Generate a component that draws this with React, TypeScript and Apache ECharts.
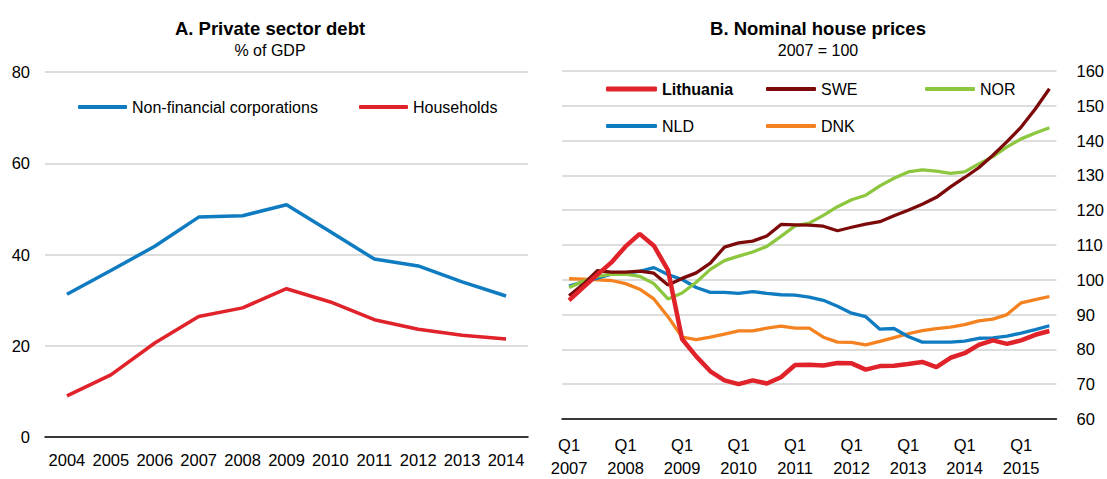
import React, { useEffect, useRef } from "react";
import * as echarts from "echarts";

const FONT = "'Liberation Sans Narrow', 'Arial Narrow', 'Liberation Sans', Arial, sans-serif";

// Panel A: private sector debt, % of GDP
const years = ["2004", "2005", "2006", "2007", "2008", "2009", "2010", "2011", "2012", "2013", "2014"];
const nonFinancialCorporations = [31.3, 36.5, 41.8, 48.2, 48.5, 50.9, 45.0, 39.0, 37.5, 34.0, 30.9];
const households = [9.0, 13.6, 20.6, 26.4, 28.3, 32.5, 29.6, 25.7, 23.6, 22.3, 21.5];

// Panel B: nominal house prices, 2007 = 100 (2007Q1 .. 2015Q3)
const quarterYears = ["2007", "2008", "2009", "2010", "2011", "2012", "2013", "2014", "2015"];
const quarterNames = ["Q1", "Q2", "Q3", "Q4"];
const quarters: string[] = [];
quarterYears.forEach((y) => quarterNames.forEach((q) => quarters.push(y + "-" + q)));
quarters.splice(35);

const lithuania = [94.1, 97.8, 101.5, 105.0, 109.6, 113.2, 109.8, 102.8, 83.0, 78.0, 73.7, 71.1, 70.0, 71.1, 70.2, 72.0, 75.5, 75.6, 75.4, 76.1, 76.0, 74.2, 75.2, 75.3, 75.8, 76.4, 74.9, 77.6, 78.9, 81.3, 82.6, 81.6, 82.6, 84.2, 85.3];
const swe = [95.4, 98.7, 102.6, 102.2, 102.2, 102.5, 101.9, 98.5, 100.4, 102.0, 104.8, 109.4, 110.6, 111.1, 112.6, 115.9, 115.8, 115.7, 115.4, 114.1, 115.1, 116.0, 116.7, 118.4, 120.0, 121.7, 123.7, 126.7, 129.4, 132.2, 135.8, 139.7, 143.9, 149.1, 154.9];
const nor = [97.8, 99.6, 101.0, 101.6, 101.6, 101.0, 98.9, 94.5, 96.2, 99.3, 103.0, 105.5, 106.8, 108.0, 109.6, 112.5, 115.5, 116.3, 118.5, 121.0, 123.0, 124.3, 127.0, 129.2, 131.0, 131.6, 131.2, 130.6, 131.0, 133.3, 135.4, 138.2, 140.5, 142.2, 143.7];
const nld = [98.2, 99.4, 100.5, 101.6, 101.9, 102.4, 103.5, 101.5, 100.1, 97.8, 96.4, 96.4, 96.1, 96.6, 96.1, 95.7, 95.6, 95.0, 94.1, 92.4, 90.4, 89.4, 85.8, 86.0, 83.7, 82.1, 82.1, 82.1, 82.4, 83.2, 83.3, 83.8, 84.7, 85.7, 86.8];
const dnk = [100.3, 100.2, 100.0, 99.8, 98.9, 97.3, 94.5, 89.4, 83.5, 82.8, 83.5, 84.4, 85.3, 85.3, 86.1, 86.7, 86.1, 86.1, 83.5, 82.1, 82.0, 81.3, 82.3, 83.4, 84.5, 85.4, 86.0, 86.4, 87.1, 88.2, 88.7, 90.0, 93.4, 94.3, 95.2];

const BLUE = "#0f7bc0";
const RED = "#e0232b";
const MAROON = "#7d0a0a";
const GREEN = "#8dc63f";
const ORANGE = "#f58220";
const GRID = "#d2d2d2";

function legendAt(name: string, left: number, centerY: number, w: number, h: number, bold = false) {
  return {
    data: [name],
    left,
    top: centerY - 10,
    padding: 0,
    icon: "roundRect",
    itemWidth: w,
    itemHeight: h,
    selectedMode: false,
    textStyle: { fontFamily: FONT, fontSize: 16, lineHeight: 20, color: "#000", fontWeight: bold ? "bold" : "normal" },
  };
}

export default function App() {
  const ref = useRef<HTMLDivElement>(null);
  useEffect(() => {
    document.body.style.margin = "0";
    if (!ref.current) return;
    const chart = echarts.init(ref.current, null, { renderer: "svg" });
    const axisLabelBase = { color: "#000", fontSize: 16.5, fontFamily: FONT };
    chart.setOption({
      animation: false,
      textStyle: { fontFamily: FONT },
      grid: [
        { left: 45, top: 72, width: 483, height: 365 },
        { left: 562, top: 71, width: 495, height: 362 },
      ],
      graphic: [
        { type: "text", x: 270, y: 28, style: { text: "A. Private sector debt", fontFamily: FONT, fontSize: 18.5, fontWeight: "bold", fill: "#000", align: "center", verticalAlign: "middle" } },
        { type: "text", x: 270, y: 50, style: { text: "% of GDP", fontFamily: FONT, fontSize: 16, fill: "#000", align: "center", verticalAlign: "middle" } },
        { type: "text", x: 818, y: 28, style: { text: "B. Nominal house prices", fontFamily: FONT, fontSize: 18.5, fontWeight: "bold", fill: "#000", align: "center", verticalAlign: "middle" } },
        { type: "text", x: 818, y: 50, style: { text: "2007 = 100", fontFamily: FONT, fontSize: 16, fill: "#000", align: "center", verticalAlign: "middle" } },
      ],
      legend: [
        legendAt("Non-financial corporations", 78, 107, 49, 4),
        legendAt("Households", 359, 107, 49, 4),
        legendAt("Lithuania", 606, 89, 51, 5, true),
        legendAt("SWE", 766, 89, 50, 4),
        legendAt("NOR", 925, 89, 50, 4),
        legendAt("NLD", 606, 126, 51, 4),
        legendAt("DNK", 766, 126, 50, 4),
      ],
      xAxis: [
        {
          gridIndex: 0,
          type: "category",
          data: years,
          boundaryGap: true,
          axisLine: { lineStyle: { color: "#000", width: 1.5 } },
          axisTick: { inside: true, length: 6, interval: 0, lineStyle: { color: "#000", width: 1.5 } },
          axisLabel: { ...axisLabelBase, interval: 0, margin: 14 },
        },
        {
          gridIndex: 1,
          type: "category",
          data: quarters,
          boundaryGap: true,
          axisLine: { lineStyle: { color: "#000", width: 1.5 } },
          axisTick: { inside: true, length: 5, interval: 0, lineStyle: { color: "#000", width: 1.5 } },
          axisLabel: {
            ...axisLabelBase,
            lineHeight: 23,
            margin: 14,
            interval: (i: number) => i % 4 === 0,
            formatter: (v: string) => v.split("-")[1] + "\n" + v.split("-")[0],
          },
        },
      ],
      yAxis: [
        {
          gridIndex: 0,
          type: "value",
          min: 0,
          max: 80,
          interval: 20,
          axisLine: { show: false },
          axisTick: { show: false },
          splitLine: { lineStyle: { color: GRID, width: 1.5 } },
          axisLabel: { ...axisLabelBase, margin: 15 },
        },
        {
          gridIndex: 1,
          type: "value",
          position: "right",
          min: 60,
          max: 160,
          interval: 10,
          axisLine: { show: false },
          axisTick: { show: false },
          splitLine: { lineStyle: { color: GRID, width: 1.5 } },
          axisLabel: { ...axisLabelBase, margin: 20 },
        },
      ],
      series: [
        { name: "Non-financial corporations", type: "line", xAxisIndex: 0, yAxisIndex: 0, data: nonFinancialCorporations, symbol: "none", color: BLUE, lineStyle: { width: 3.5, color: BLUE } },
        { name: "Households", type: "line", xAxisIndex: 0, yAxisIndex: 0, data: households, symbol: "none", color: RED, lineStyle: { width: 3.5, color: RED } },
        { name: "DNK", type: "line", xAxisIndex: 1, yAxisIndex: 1, data: dnk, symbol: "none", color: ORANGE, lineStyle: { width: 3.3, color: ORANGE } },
        { name: "NLD", type: "line", xAxisIndex: 1, yAxisIndex: 1, data: nld, symbol: "none", color: BLUE, lineStyle: { width: 3.3, color: BLUE } },
        { name: "NOR", type: "line", xAxisIndex: 1, yAxisIndex: 1, data: nor, symbol: "none", color: GREEN, lineStyle: { width: 3.3, color: GREEN } },
        { name: "SWE", type: "line", xAxisIndex: 1, yAxisIndex: 1, data: swe, symbol: "none", color: MAROON, lineStyle: { width: 3.3, color: MAROON } },
        { name: "Lithuania", type: "line", xAxisIndex: 1, yAxisIndex: 1, data: lithuania, symbol: "none", color: RED, lineStyle: { width: 4.5, color: RED } },
      ],
    });
    return () => chart.dispose();
  }, []);
  return <div ref={ref} style={{ width: 1107, height: 479 }} />;
}
